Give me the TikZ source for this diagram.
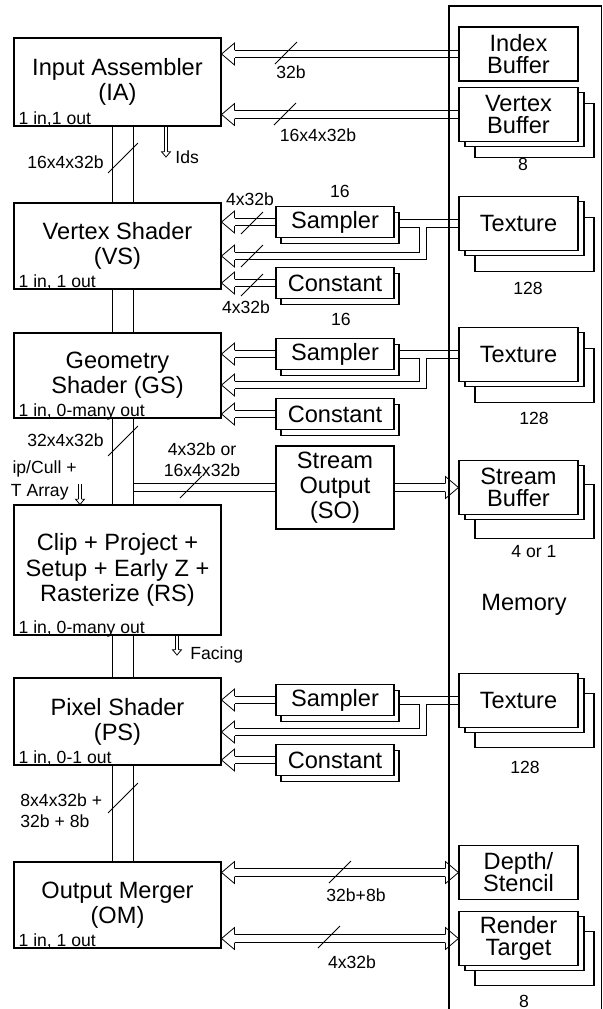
\documentclass[tikz,border=0pt]{standalone}
\usepackage{fontspec}
\setmainfont{Liberation Sans}
\usetikzlibrary{positioning,backgrounds}

\newcommand\bigtext{\fontsize{11.8}{12.6}\selectfont}
\newcommand\memtext{\fontsize{11.8}{11}\selectfont}
\newcommand\smalltext{\fontsize{8.8}{10.5}\selectfont}

\tikzset{
  stage/.style={draw, fill=white, minimum width=103.5pt, minimum height=#1, inner sep=0pt, align=center, font=\bigtext},
  unit/.style={draw, fill=white, minimum width=59pt, minimum height=15.5pt, inner sep=0pt, font=\bigtext},
  mem/.style={draw, fill=white, minimum width=59.5pt, minimum height=27pt, inner sep=0pt, align=center, font=\memtext},
  note/.style={inner sep=0pt, font=\smalltext, align=left},
  pipe/.style={double, double distance=3.4pt},
  thinpipe/.style={double, double distance=1.05pt},
  wide/.style={double, double distance=10.45pt},
  pics/hd/.style={code={
    \fill[white] (0,0) -- (13,11) -- (13,-11) -- cycle;
    \draw (13,4) -- (13,11) -- (0,0) -- (13,-11) -- (13,-4);
  }},
  pics/cut/.style={code={\draw (-11,11) -- (11,-11);}},
}

\begin{document}
\begin{tikzpicture}[x=0.5pt, y=-0.5pt, line width=0.55pt]
\useasboundingbox (0,0) rectangle (603,1009);

\draw (449,1015) |- (601.5,6) -- (601.5,1015);
\node[font=\bigtext] (memory) at (524,605) {Memory};

\foreach \n/\y/\d in {vbuf/114.5/16, tex1/223.5/21, tex2/354.5/21, sbuf/487.5/24, tex3/700.5/20, rt/938.5/20} {
  \node[mem] (\n-3) at (534.5,\y+\d) {};
  \node[mem] (\n-2) at (524.5,\y+5) {};
}
\node[mem] (ibuf) at (518.5,54) {Index\\Buffer};
\node[mem] (vbuf) at (518.5,114.5) {Vertex\\Buffer};
\node[mem] (tex1) at (518.5,223.5) {Texture};
\node[mem] (tex2) at (518.5,354.5) {Texture};
\node[mem] (sbuf) at (518.5,487.5) {Stream\\Buffer};
\node[mem] (tex3) at (518.5,700.5) {Texture};
\node[mem] (depth) at (518.5,872.5) {Depth/\\Stencil};
\node[mem] (rt) at (518.5,938.5) {Render\\Target};

\foreach \n/\y in {smp1/222, cst1/283, smp2/354, cst2/414, smp3/700, cst3/760}
  \node[unit] (\n-2) at (340,\y+6) {};
\node[unit] (smp1) at (335,222) {Sampler};
\node[unit] (cst1) at (335,283) {Constant};
\node[unit] (smp2) at (335,354) {Sampler};
\node[unit] (cst2) at (335,414) {Constant};
\node[unit] (smp3) at (335,700) {Sampler};
\node[unit] (cst3) at (335,760) {Constant};
\node[stage=41.5pt, minimum width=59pt] (so) at (335,487.5) {Stream\\Output\\(SO)};

\node[stage=44pt] (ia) at (117.5,82) {Input Assembler\\(IA)};
\node[stage=43pt] (vs) at (117.5,246) {Vertex Shader\\(VS)};
\node[stage=42.5pt] (gs) at (117.5,375.5) {Geometry\\Shader (GS)};
\node[stage=65pt] (rs) at (117.5,570) {Clip + Project +\\Setup + Early Z +\\Rasterize (RS)};
\node[stage=43.5pt] (ps) at (117.5,721.5) {Pixel Shader\\(PS)};
\node[stage=43pt] (om) at (117.5,905) {Output Merger\\(OM)};
\foreach \s/\t in {ia/{1 in,1 out}, vs/{1 in, 1 out}, gs/{1 in, 0-many out}, rs/{1 in, 0-many out}, ps/{1 in, 0-1 out}, om/{1 in, 1 out}}
  \node[note, anchor=base west] (\s-n) at ([xshift=2.3pt, yshift=1pt]\s.south west) {\t};

\coordinate (bus) at (123,0);
\coordinate (busr) at (134,0);
\coordinate (ids) at (166,157);
\coordinate (fc) at (177,655);
\coordinate (cl) at (80,484);

\begin{pgfonlayer}{background}
  \draw[pipe] (so.west -| busr) -- (so.west);
  \foreach \a/\b in {ia/vs, vs/gs, gs/rs, rs/ps, ps/om}
    \draw[wide] (\a.south -| bus) -- (\b.north -| bus);
  \foreach \a/\b in {ibuf/ia, vbuf/ia, smp1/vs, cst1/vs, smp2/gs, cst2/gs, smp3/ps, cst3/ps} {
    \draw[pipe, shorten >=6.5pt] (\a.west) -- (\b.east |- \a.west);
    \pic at (\b.east |- \a.west) {hd};
  }
  \foreach \t/\s/\v/\y in {tex1/smp1/vs/256, tex2/smp2/gs/385, tex3/smp3/ps/732} {
    \coordinate (j) at (423,\y);
    \draw[pipe, shorten >=6.5pt] (\t.west) -- (\t.west -| \s-2.east) (\t.west -| j) |- (\v.east |- j);
    \pic at (\v.east |- j) {hd};
  }
  \draw[pipe, shorten >=6.5pt] (so.east) -- (so.east -| sbuf.west);
  \pic[rotate=180] at (so.east -| sbuf.west) {hd};
  \foreach \m in {depth, rt} {
    \draw[pipe, shorten <=6.5pt, shorten >=6.5pt] (om.east |- \m.west) -- (\m.west);
    \pic at (om.east |- \m.west) {hd};
    \pic[rotate=180] at (\m.west) {hd};
  }
  \draw[thinpipe, shorten >=2.6pt] (ia.south -| ids) -- (ids);
  \pic[rotate=90, scale=0.4] at (ids) {hd};
  \draw[thinpipe, shorten >=2.6pt] (rs.south -| fc) -- (fc);
  \pic[rotate=90, scale=0.4] at (fc) {hd};
  \draw[thinpipe, shorten >=2.6pt] (cl) -- (rs.north -| cl);
  \pic[rotate=90, scale=0.4] at (rs.north -| cl) {hd};
\end{pgfonlayer}

\foreach \p in {{(286,53)}, {(285,114)}, {(252,223)}, {(252,256)}, {(252,285)}, {(191,487)}, {(340,872)}, {(329,937)}}
  \pic at \p {cut};
\foreach \p in {{(123,158)}, {(123,441)}, {(123,798)}}
  \pic[scale=1.36] at \p {cut};

\node[note, right=4.5pt of ids] (idsl) {Ids};
\node[note, right=6.5pt of fc] (fcl) {Facing};
\node[note, anchor=east] (clip1) at (77,469) {ip/Cull +};
\node[note, anchor=east] (clip2) at (69,492) {T Array};
\node[note, anchor=east] (b1) at (104,162) {16x4x32b};
\node[note, anchor=east] (b3) at (104,440) {32x4x32b};
\node[note, anchor=west] (b5) at (20,810.5) {8x4x32b +\\32b + 8b};
\node[note, align=center] (sow) at (202,459.5) {4x32b or\\16x4x32b};
\node[note] (w1) at (291,72) {32b};
\node[note] (w2) at (318,135) {16x4x32b};
\node[note] (w3) at (250,199) {4x32b};
\node[note] (w4) at (246,307) {4x32b};
\node[note] (n1) at (340,191) {16};
\node[note] (n2) at (341,319) {16};
\node[note] (w5) at (356,895) {32b+8b};
\node[note] (w6) at (352,962) {4x32b};
\node[note] (c1) at (523,164) {8};
\node[note] (c2) at (528,288) {128};
\node[note] (c3) at (534,418) {128};
\node[note] (c4) at (534,552) {4 or 1};
\node[note] (c5) at (525,767) {128};
\node[note] (c6) at (524,1001) {8};
\end{tikzpicture}
\end{document}
